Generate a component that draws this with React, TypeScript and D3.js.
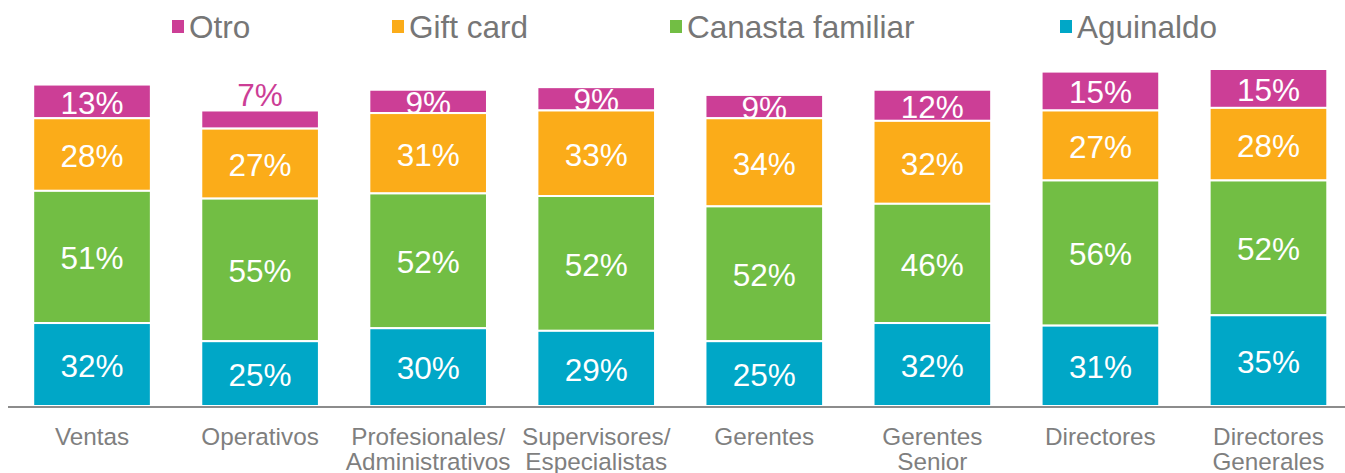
import React from "react";
import * as d3 from "d3";

const categories = [
  ["Ventas"],
  ["Operativos"],
  ["Profesionales/", "Administrativos"],
  ["Supervisores/", "Especialistas"],
  ["Gerentes"],
  ["Gerentes", "Senior"],
  ["Directores"],
  ["Directores", "Generales"],
];

const seriesNames = ["Aguinaldo", "Canasta familiar", "Gift card", "Otro"];
const aguinaldo = [32, 25, 30, 29, 25, 32, 31, 35];
const canasta = [51, 55, 52, 52, 52, 46, 56, 52];
const giftCard = [28, 27, 31, 33, 34, 32, 27, 28];
const otro = [13, 7, 9, 9, 9, 12, 15, 15];
const colors = ["#00A7C7", "#72BE44", "#FBAC19", "#CC3E96"];
const legendOrder = [3, 2, 1, 0];
const legendX = [172, 392, 670, 1060];

const W = 1345;
const H = 473;

export default function App() {
  const values = [aguinaldo, canasta, giftCard, otro];
  const keys = categories.map((c) => c.join(" "));
  const x = d3
    .scaleBand<string>()
    .domain(keys)
    .range([8, 1352.5])
    .paddingInner(0.3)
    .paddingOuter(0.15);
  const y = d3.scaleLinear().domain([0, 130]).range([406, 69]);

  const rows = keys.map((k, i) => {
    const r: any = { key: k };
    seriesNames.forEach((s, j) => (r[s] = values[j][i]));
    return r;
  });
  const stacked = d3.stack<any>().keys(seriesNames)(rows);
  const font = "'Liberation Sans', Arial, sans-serif";

  // draw from top series to bottom so lower segments overlay upper labels
  const drawOrder = [3, 2, 1, 0];

  return (
    <svg
      width={W}
      height={H}
      style={{ position: "absolute", left: 0, top: 0, background: "#fff" }}
      fontFamily={font}
    >
      {legendOrder.map((si, li) => (
        <g key={si}>
          <rect x={legendX[li]} y={20} width={12} height={13} fill={colors[si]} />
          <text x={legendX[li] + 17} y={38} fontSize={31.5} fill="#767676">
            {seriesNames[si]}
          </text>
        </g>
      ))}
      {drawOrder.map((si) => (
        <g key={si}>
          {stacked[si].map((d, i) => {
            const x0 = x(keys[i])!;
            const bw = x.bandwidth();
            const top = y(d[1]);
            const bot = y(d[0]);
            const v = values[si][i];
            const inside = v >= 8;
            return (
              <g key={i}>
                <rect
                  x={x0}
                  y={top}
                  width={bw}
                  height={bot - top}
                  fill={colors[si]}
                  stroke="#fff"
                  strokeWidth={2}
                />
                <text
                  x={x0 + bw / 2}
                  y={inside ? (top + bot) / 2 + 1 : top - 4}
                  dy={inside ? "0.36em" : 0}
                  textAnchor="middle"
                  fontSize={31.5}
                  fill={inside ? "#fff" : colors[si]}
                >
                  {v}%
                </text>
              </g>
            );
          })}
        </g>
      ))}
      <line x1={8} x2={1345} y1={407} y2={407} stroke="#8C8C8C" strokeWidth={2} />
      {categories.map((lines, i) => (
        <text
          key={i}
          x={x(keys[i])! + x.bandwidth() / 2}
          y={445}
          textAnchor="middle"
          fontSize={24.3}
          fill="#7F7F7F"
        >
          {lines.map((l, j) => (
            <tspan key={j} x={x(keys[i])! + x.bandwidth() / 2} dy={j === 0 ? 0 : 25}>
              {l}
            </tspan>
          ))}
        </text>
      ))}
    </svg>
  );
}
